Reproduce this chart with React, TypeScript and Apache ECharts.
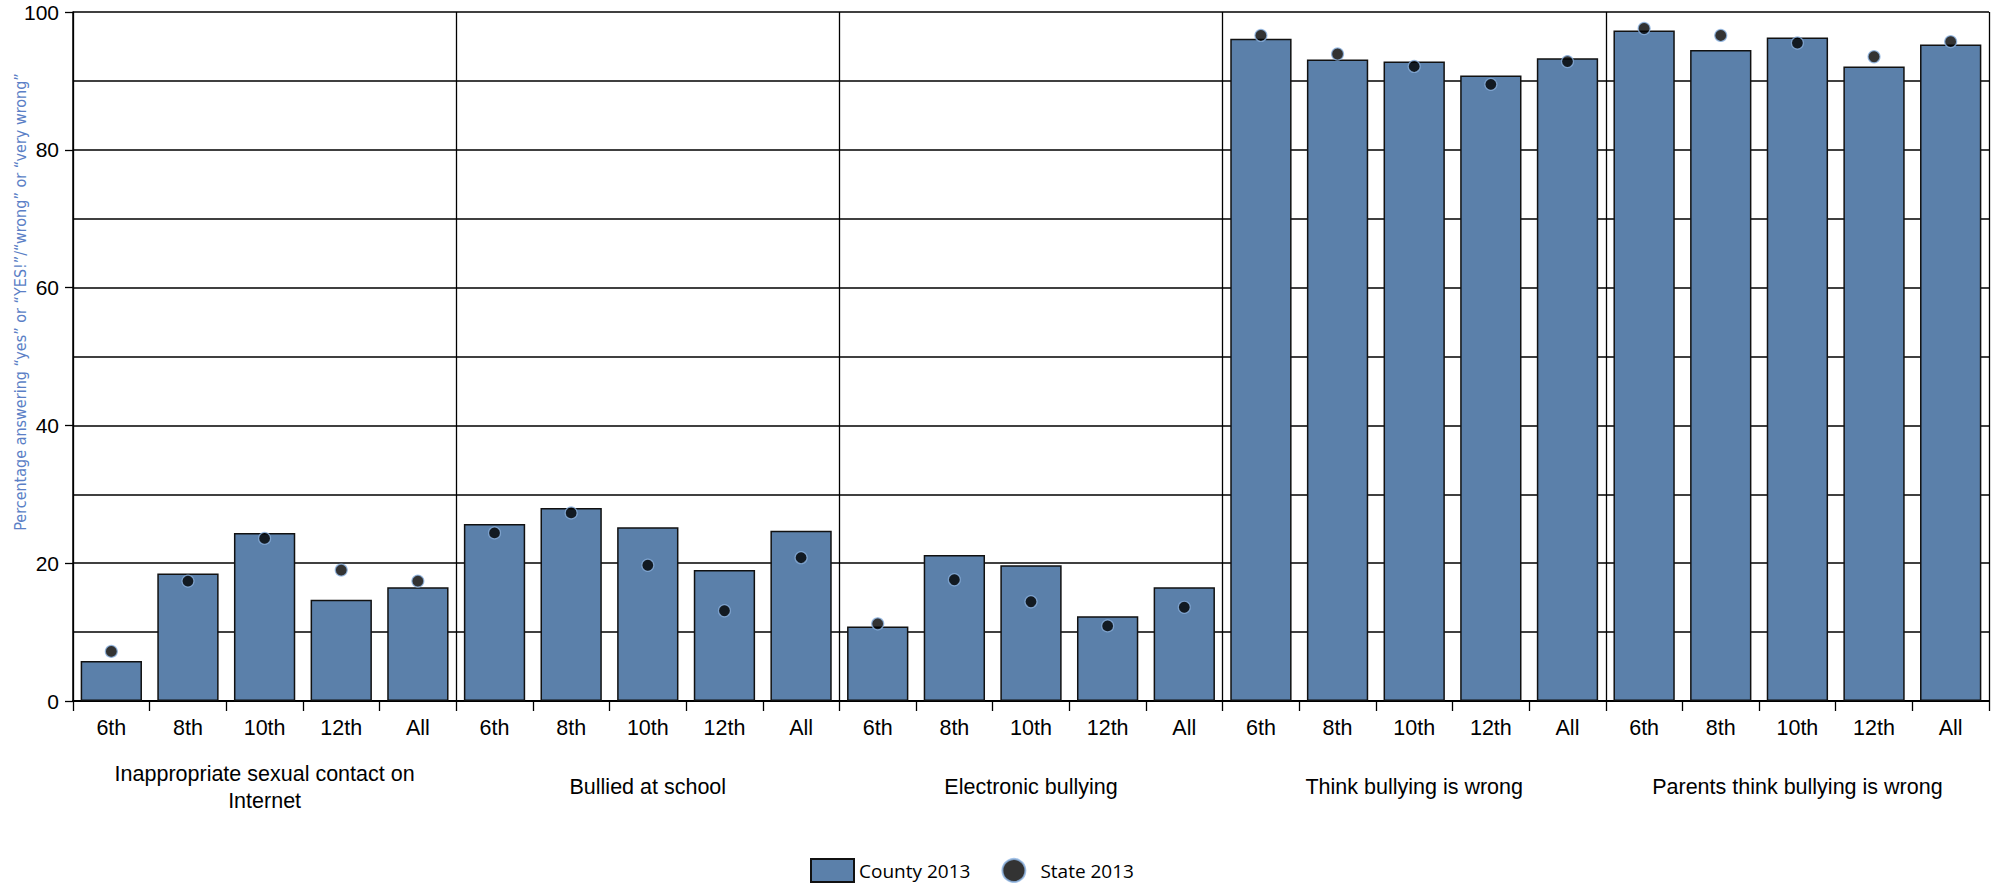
import React, { useEffect, useRef } from "react";
import * as echarts from "echarts";

const grades = ["6th", "8th", "10th", "12th", "All"];
const groups = [
  "Inappropriate sexual contact on\nInternet",
  "Bullied at school",
  "Electronic bullying",
  "Think bullying is wrong",
  "Parents think bullying is wrong",
];
const countyInternet = [5.8, 18.5, 24.4, 14.7, 16.5];
const countyBullied = [25.7, 28.0, 25.2, 19.0, 24.7];
const countyElectronic = [10.8, 21.2, 19.7, 12.3, 16.5];
const countyThinkWrong = [96.1, 93.1, 92.8, 90.8, 93.3];
const countyParentsWrong = [97.3, 94.5, 96.3, 92.1, 95.3];

const stateInternet = [7.2, 17.4, 23.6, 19.0, 17.4];
const stateBullied = [24.4, 27.3, 19.7, 13.1, 20.8];
const stateElectronic = [11.2, 17.6, 14.4, 10.9, 13.6];
const stateThinkWrong = [96.6, 93.9, 92.1, 89.5, 92.8];
const stateParentsWrong = [97.6, 96.6, 95.5, 93.5, 95.7];

const yTicks = [0, 20, 40, 60, 80, 100];
const yTitle = "Percentage answering “yes” or “YES!”/“wrong” or “very wrong”";

const categories = groups.flatMap(() => grades);
const countyValues = [
  ...countyInternet,
  ...countyBullied,
  ...countyElectronic,
  ...countyThinkWrong,
  ...countyParentsWrong,
];
const stateValues = [
  ...stateInternet,
  ...stateBullied,
  ...stateElectronic,
  ...stateThinkWrong,
  ...stateParentsWrong,
];

const labelFont = "'Liberation Sans', Arial, sans-serif";

export default function App() {
  const ref = useRef<HTMLDivElement>(null);
  useEffect(() => {
    if (!ref.current) return;
    const chart = echarts.init(ref.current, undefined, { renderer: "svg" });
    chart.setOption({
      animation: false,
      backgroundColor: "#ffffff",
      grid: { left: 73, right: 8, top: 12, bottom: 182, containLabel: false },
      legend: {
        left: 805,
        top: 853,
        padding: 5,
        itemWidth: 43,
        itemHeight: 23,
        itemGap: 31,
        textStyle: {
          fontFamily: "'Open Sans', 'Noto Sans', sans-serif",
          fontSize: 19,
          color: "#000",
        },
        data: [
          { name: "County 2013", icon: "rect" },
          { name: "State 2013", icon: "circle" },
        ],
      },
      graphic: [
        {
          type: "text",
          x: 20,
          y: 302,
          rotation: Math.PI / 2,
          style: {
            text: yTitle,
            fill: "#5b7fc6",
            fontSize: 16,
            fontFamily: "'Liberation Sans Narrow', 'DejaVu Sans Condensed', sans-serif",
            textAlign: "center",
            textVerticalAlign: "middle",
          },
        },
      ],
      xAxis: [
        {
          type: "category",
          data: categories,
          position: "bottom",
          boundaryGap: true,
          axisLine: { show: true, lineStyle: { color: "#000", width: 2 } },
          axisTick: {
            show: true,
            interval: 0,
            length: 10,
            lineStyle: { color: "#000", width: 1.3 },
          },
          axisLabel: {
            interval: 0,
            margin: 27,
            verticalAlign: "middle",
            fontSize: 21.5,
            fontFamily: labelFont,
            color: "#000",
          },
          splitLine: {
            show: true,
            interval: (index: number) => index % 5 === 0,
            lineStyle: { color: "#000", width: 1.3 },
          },
        },
        {
          type: "category",
          data: groups,
          position: "bottom",
          boundaryGap: true,
          axisLine: { show: false },
          axisTick: { show: false },
          splitLine: { show: false },
          axisLabel: {
            interval: 0,
            margin: 86,
            verticalAlign: "middle",
            lineHeight: 27,
            fontSize: 21.5,
            fontFamily: labelFont,
            color: "#000",
          },
        },
      ],
      yAxis: {
        type: "value",
        min: yTicks[0],
        max: yTicks[yTicks.length - 1],
        interval: 20,
        axisLine: { show: true, lineStyle: { color: "#000", width: 1.5 } },
        axisTick: { show: true, length: 8, lineStyle: { color: "#000", width: 1.3 } },
        axisLabel: {
          margin: 14,
          fontSize: 21,
          fontFamily: labelFont,
          color: "#000",
        },
        splitLine: { show: true, lineStyle: { color: "#000", width: 1.5 } },
        minorTick: { show: false, splitNumber: 2 },
        minorSplitLine: { show: true, lineStyle: { color: "#000", width: 1.5 } },
      },
      series: [
        {
          name: "County 2013",
          type: "bar",
          xAxisIndex: 0,
          data: countyValues,
          barCategoryGap: "20%",
          itemStyle: { color: "#5b80aa", borderColor: "#111", borderWidth: 1.5 },
        },
        {
          name: "State 2013",
          type: "scatter",
          xAxisIndex: 0,
          data: stateValues,
          symbol: "circle",
          symbolSize: 12,
          itemStyle: { color: "#000", borderColor: "#8db4e2", borderWidth: 1.2 },
          z: 5,
        },
      ],
    });
    return () => chart.dispose();
  }, []);
  return (
    <div
      ref={ref}
      style={{ position: "absolute", left: 0, top: 0, width: 1997, height: 883 }}
    />
  );
}
